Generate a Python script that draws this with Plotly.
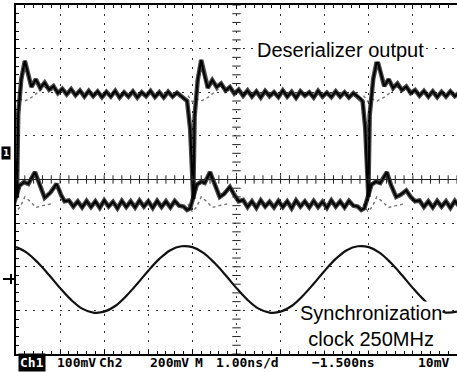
import plotly.graph_objects as go

W, H = 457, 372
ML, MR, MT, MB = 16, 0, 5, 18
PW, PH = W - ML - MR, H - MT - MB

def px(x):
    return (x - ML) / PW

def py(y):
    return (H - MB - y) / PH

# ---------------- data (time in ns across the screen, value in divisions) ----------------
t_upper = [-0.18, -0.12, -0.05, -0.01, 0.02, 0.05, 0.12, 0.20, 0.27, 0.35, 0.45, 0.55, 0.65, 0.75, 0.85, 0.95,
           1.05, 1.15, 1.25, 1.35, 1.45, 1.55, 1.65, 1.75, 1.85, 1.95, 2.05, 2.15, 2.25, 2.35, 2.45, 2.55,
           2.65, 2.75, 2.85, 2.95, 3.05, 3.15, 3.25, 3.35, 3.45, 3.55, 3.65, 3.75,
           3.82, 3.88, 3.95, 3.99, 4.02, 4.05, 4.12, 4.20, 4.27, 4.35, 4.45, 4.55, 4.65, 4.75, 4.85, 4.95,
           5.05, 5.15, 5.25, 5.35, 5.45, 5.55, 5.65, 5.75, 5.85, 5.95, 6.05, 6.15, 6.25, 6.35, 6.45, 6.55,
           6.65, 6.75, 6.85, 6.95, 7.05, 7.15, 7.25, 7.35, 7.45, 7.55, 7.65, 7.75,
           7.80, 7.86, 7.92, 7.96, 7.99, 8.02, 8.10, 8.19, 8.27, 8.35, 8.45, 8.55, 8.65, 8.75, 8.85, 8.95,
           9.05, 9.15, 9.25, 9.35, 9.45, 9.55, 9.65, 9.75, 9.85, 9.95, 10.05]
v_upper = [1.88, 1.78, 1.20, 0.15, -0.42, 1.50, 2.30, 2.72, 2.42, 2.12, 2.30, 2.10, 2.22, 2.06, 2.14, 1.98,
           2.08, 1.95, 2.07, 1.93, 2.04, 1.90, 2.03, 1.91, 2.02, 1.89, 2.01, 1.90, 2.03, 1.88, 2.00, 1.90,
           2.02, 1.88, 2.00, 1.91, 2.03, 1.89, 2.00, 1.88, 2.01, 1.90, 1.99, 1.90,
           1.86, 1.80, 1.15, 0.10, -0.45, 1.45, 2.28, 2.74, 2.40, 2.10, 2.28, 2.12, 2.20, 2.04, 2.12, 1.97,
           2.06, 1.92, 2.04, 1.90, 2.02, 1.88, 2.03, 1.91, 2.00, 1.89, 2.04, 1.90, 2.01, 1.87, 2.02, 1.92,
           2.00, 1.88, 2.03, 1.90, 1.99, 1.89, 2.02, 1.90, 2.00, 1.88, 1.98, 1.90,
           1.87, 1.79, 1.18, 0.12, -0.40, 1.48, 2.30, 2.75, 2.44, 2.14, 2.30, 2.10, 2.20, 2.05, 2.13, 1.98,
           2.05, 1.92, 2.03, 1.90, 2.02, 1.89, 2.01, 1.90, 2.02, 1.91, 1.99]

t_lower = [-0.08, 0.00, 0.08, 0.18, 0.28, 0.43, 0.53, 0.65, 0.78, 0.92, 1.02, 1.10,
           1.20, 1.30, 1.40, 1.50, 1.60, 1.70, 1.80, 1.90, 2.00, 2.10, 2.20, 2.30, 2.40,
           2.50, 2.60, 2.70, 2.80, 2.90, 3.00, 3.10, 3.20, 3.30, 3.40, 3.50, 3.60, 3.70,
           3.80, 3.88, 3.95, 4.02, 4.10, 4.20, 4.28, 4.40, 4.50, 4.62, 4.72, 4.85, 4.95, 5.05,
           5.15, 5.25, 5.35, 5.45, 5.55, 5.65, 5.75, 5.85, 5.95, 6.05, 6.15, 6.25, 6.35,
           6.45, 6.55, 6.65, 6.75, 6.85, 6.95, 7.05, 7.15, 7.25, 7.35, 7.45, 7.55, 7.65,
           7.75, 7.83, 7.90, 7.98, 8.06, 8.16, 8.26, 8.41, 8.50, 8.62, 8.72, 8.85, 8.95, 9.05,
           9.15, 9.25, 9.35, 9.45, 9.55, 9.65, 9.75, 9.85, 9.95, 10.05]
v_lower = [-0.66, -0.40, -0.14, -0.06, -0.10, 0.17, -0.12, -0.42, -0.30, -0.10, -0.35, -0.50,
           -0.48, -0.62, -0.50, -0.64, -0.49, -0.63, -0.50, -0.65, -0.48, -0.62, -0.51, -0.66, -0.49,
           -0.63, -0.50, -0.64, -0.48, -0.62, -0.50, -0.65, -0.49, -0.63, -0.50, -0.64, -0.49, -0.60,
           -0.62, -0.70, -0.66, -0.38, -0.12, -0.05, -0.08, 0.17, -0.10, -0.40, -0.33, -0.17, -0.35, -0.50,
           -0.47, -0.63, -0.50, -0.65, -0.48, -0.62, -0.51, -0.64, -0.49, -0.63, -0.50, -0.66, -0.48,
           -0.62, -0.50, -0.64, -0.49, -0.63, -0.51, -0.65, -0.48, -0.62, -0.50, -0.64, -0.49, -0.60,
           -0.62, -0.70, -0.66, -0.38, -0.12, -0.05, -0.08, 0.17, -0.12, -0.40, -0.35, -0.25, -0.40, -0.50,
           -0.48, -0.63, -0.50, -0.64, -0.49, -0.62, -0.50, -0.65, -0.49, -0.62]

# fainter persistence paths around each transition
t_upper_alt = [-0.10, 0.00, 0.08, 0.20, 0.35, 0.50, 0.65, 0.85, None,
               3.90, 4.00, 4.08, 4.20, 4.35, 4.50, 4.65, 4.85, None,
               7.88, 7.98, 8.06, 8.19, 8.34, 8.50, 8.65, 8.85]
v_upper_alt = [1.92, 1.78, 1.85, 1.80, 1.88, 2.00, 2.12, 2.02, None,
               1.92, 1.78, 1.85, 1.80, 1.88, 2.00, 2.12, 2.02, None,
               1.92, 1.78, 1.85, 1.80, 1.88, 2.00, 2.12, 2.02]
t_lower_alt = [-0.10, 0.00, 0.10, 0.20, 0.32, 0.45, 0.60, 0.80, None,
               3.90, 4.00, 4.10, 4.20, 4.32, 4.45, 4.60, 4.80, None,
               7.88, 7.98, 8.08, 8.18, 8.30, 8.45, 8.60, 8.80]
v_lower_alt = [-0.56, -0.74, -0.62, -0.40, -0.50, -0.64, -0.60, -0.56, None,
               -0.56, -0.74, -0.62, -0.40, -0.50, -0.64, -0.60, -0.56, None,
               -0.56, -0.74, -0.62, -0.40, -0.50, -0.64, -0.60, -0.56]

# synchronization clock 250 MHz
t_clock = [0.0, 0.25, 0.5, 0.75, 1.0, 1.25, 1.5, 1.75, 2.0, 2.25, 2.5, 2.75, 3.0, 3.25, 3.5, 3.75,
           4.0, 4.25, 4.5, 4.75, 5.0, 5.25, 5.5, 5.75, 6.0, 6.25, 6.5, 6.75, 7.0, 7.25, 7.5, 7.75,
           8.0, 8.25, 8.5, 8.75, 9.0, 9.25, 9.5, 9.75, 10.0]
v_clock = [-1.55, -1.68, -1.91, -2.19, -2.49, -2.76, -2.96, -3.05, -3.03, -2.90, -2.67, -2.39,
           -2.09, -1.82, -1.62, -1.53, -1.55, -1.68, -1.91, -2.19, -2.49, -2.76, -2.96, -3.05,
           -3.03, -2.90, -2.67, -2.39, -2.09, -1.82, -1.62, -1.53, -1.55, -1.68, -1.91, -2.19,
           -2.49, -2.76, -2.96, -3.05, -3.03]

status_items = ["100mV", "Ch2", "200mV", "M", "1.00ns/d", "\u22121.500ns", "10mV"]
status_centers = [76, 110, 169, 199, 248, 343, 433]

# ---------------- figure ----------------
fig = go.Figure()

fig.add_trace(go.Scatter(x=t_upper_alt, y=v_upper_alt, mode="lines",
                         line=dict(color="#777", width=1.4, dash="dot"), hoverinfo="skip"))
fig.add_trace(go.Scatter(x=t_lower_alt, y=v_lower_alt, mode="lines",
                         line=dict(color="#777", width=1.4, dash="dot"), hoverinfo="skip"))
# persistence band under the main traces
fig.add_trace(go.Scatter(x=t_upper, y=v_upper, mode="lines",
                         line=dict(color="rgba(0,0,0,0.72)", width=4.5), hoverinfo="skip"))
fig.add_trace(go.Scatter(x=t_lower, y=v_lower, mode="lines",
                         line=dict(color="rgba(0,0,0,0.72)", width=4.5), hoverinfo="skip"))
fig.add_trace(go.Scatter(x=t_upper, y=v_upper, mode="lines",
                         line=dict(color="#000", width=2), hoverinfo="skip"))
fig.add_trace(go.Scatter(x=t_lower, y=v_lower, mode="lines",
                         line=dict(color="#000", width=2), hoverinfo="skip"))
fig.add_trace(go.Scatter(x=t_clock, y=v_clock, mode="lines", line_shape="spline",
                         line=dict(color="#111", width=2.2), hoverinfo="skip"))

# graticule centre-line ticks
fig.add_trace(go.Scatter(x=[k * 0.2 for k in range(51)], y=[0] * 51, mode="markers",
                         marker=dict(symbol="line-ns", size=6, line=dict(color="#222", width=1)),
                         hoverinfo="skip"))
fig.add_trace(go.Scatter(x=[5] * 41, y=[-4 + k * 0.2 for k in range(41)], mode="markers",
                         marker=dict(symbol="line-ew", size=6, line=dict(color="#222", width=1)),
                         hoverinfo="skip"))

fig.add_shape(type="line", xref="x", yref="y", x0=0, x1=10, y0=0, y1=0,
              line=dict(color="#222", width=1))

# channel markers at left
fig.add_annotation(x=px(6), y=py(153), xref="paper", yref="paper", text="<b>1</b>",
                   showarrow=False, font=dict(family="DejaVu Sans", size=9, color="white"),
                   bgcolor="black", borderpad=1, xanchor="center", yanchor="middle")
fig.add_shape(type="line", xref="paper", yref="paper", x0=px(3), x1=px(16), y0=py(279), y1=py(279),
              line=dict(color="black", width=2))
fig.add_shape(type="line", xref="paper", yref="paper", x0=px(11), x1=px(11), y0=py(274), y1=py(284),
              line=dict(color="black", width=2))

# labels
fig.add_annotation(x=px(340), y=py(50), xref="paper", yref="paper", text="Deserializer output",
                   showarrow=False, font=dict(family="Liberation Sans, Arial", size=20, color="black"),
                   bgcolor="white", borderpad=0, xanchor="center", yanchor="middle")
fig.add_annotation(x=px(371), y=py(326), xref="paper", yref="paper",
                   text="Synchronization<br>clock 250MHz", align="center",
                   showarrow=False, font=dict(family="Liberation Sans, Arial", size=20, color="black"),
                   bgcolor="white", borderpad=0, xanchor="center", yanchor="middle")

# status line
fig.add_annotation(x=px(32), y=py(362), xref="paper", yref="paper", text="<b>Ch1</b>",
                   showarrow=False, font=dict(family="DejaVu Sans Mono", size=13, color="white"),
                   bgcolor="black", borderpad=1, xanchor="center", yanchor="middle")
for txt, cx in zip(status_items, status_centers):
    fig.add_annotation(x=px(cx), y=py(362), xref="paper", yref="paper", text="<b>" + txt + "</b>",
                       showarrow=False, font=dict(family="DejaVu Sans Mono", size=13, color="black"),
                       xanchor="center", yanchor="middle")

fig.update_layout(
    width=W, height=H, margin=dict(l=ML, r=MR, t=MT, b=MB, pad=0),
    paper_bgcolor="white", plot_bgcolor="white", showlegend=False,
    xaxis=dict(range=[0, 10], dtick=1, tick0=0, showticklabels=False, zeroline=False,
               showgrid=True, gridcolor="#333", gridwidth=1.3, griddash="2px,6.82px",
               showline=True, linecolor="black", linewidth=2, mirror="ticks",
               ticks="inside", ticklen=4, tickcolor="black",
               minor=dict(dtick=0.2, ticks="inside", ticklen=3, tickcolor="black", showgrid=False)),
    yaxis=dict(range=[-4, 4], dtick=1, tick0=0, showticklabels=False, zeroline=False,
               showgrid=True, gridcolor="#333", gridwidth=1.3, griddash="2px,6.72px",
               showline=True, linecolor="black", linewidth=2, mirror=False,
               ticks="inside", ticklen=4, tickcolor="black",
               minor=dict(dtick=0.2, ticks="inside", ticklen=3, tickcolor="black", showgrid=False)),
)

fig.write_html("out.html", config={"displayModeBar": False},
               post_script="document.body.style.margin='0px';document.body.style.overflow='hidden';")
